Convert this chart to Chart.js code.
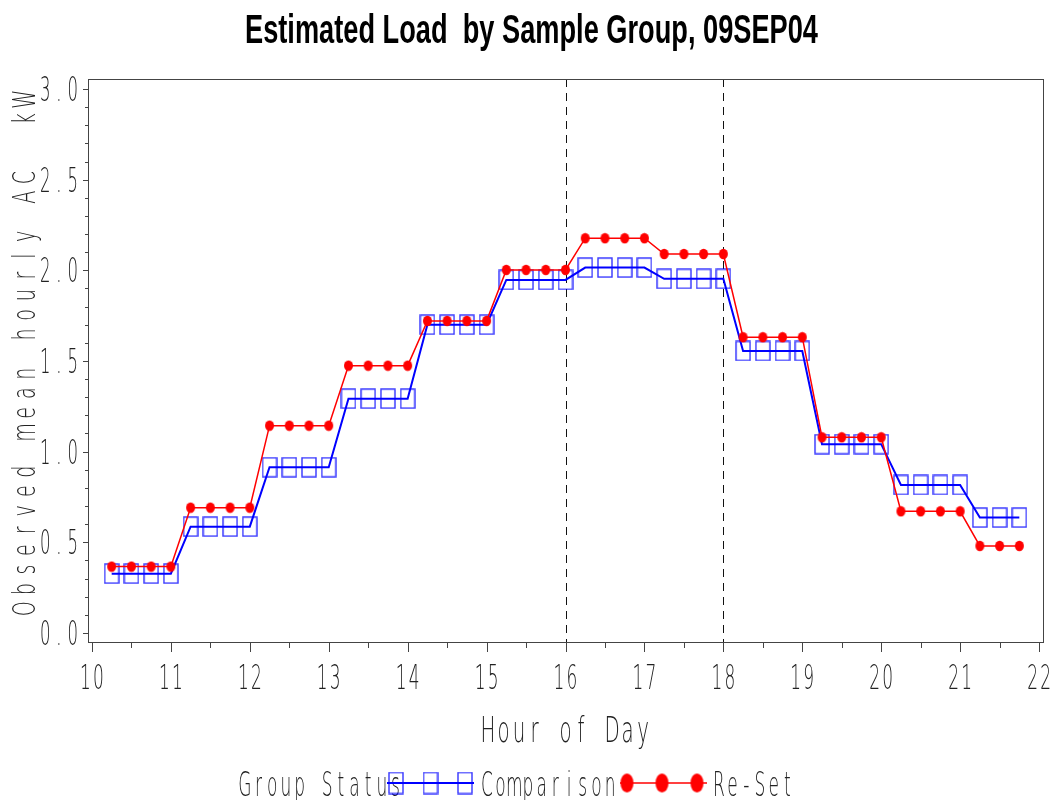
<!DOCTYPE html>
<html>
<head>
<meta charset="utf-8">
<title>Estimated Load by Sample Group</title>
<script src="https://cdn.jsdelivr.net/npm/chart.js@4/dist/chart.umd.min.js"></script>
<style>
  html, body { margin: 0; padding: 0; background: #fff; }
  #wrap { width: 1053px; height: 800px; }
</style>
</head>
<body>
<div id="wrap"><canvas id="loadChart" width="1053" height="800"></canvas></div>
<script>
// quarter-hour readings, 10:15 .. 21:45
var hours = [
  10.25, 10.5, 10.75, 11.0,
  11.25, 11.5, 11.75, 12.0,
  12.25, 12.5, 12.75, 13.0,
  13.25, 13.5, 13.75, 14.0,
  14.25, 14.5, 14.75, 15.0,
  15.25, 15.5, 15.75, 16.0,
  16.25, 16.5, 16.75, 17.0,
  17.25, 17.5, 17.75, 18.0,
  18.25, 18.5, 18.75, 19.0,
  19.25, 19.5, 19.75, 20.0,
  20.25, 20.5, 20.75, 21.0,
  21.25, 21.5, 21.75
];

var comparison = [
  0.327, 0.327, 0.327, 0.327,
  0.586, 0.586, 0.586, 0.586,
  0.914, 0.914, 0.914, 0.914,
  1.292, 1.292, 1.292, 1.292,
  1.700, 1.700, 1.700, 1.700,
  1.947, 1.947, 1.947, 1.947,
  2.015, 2.015, 2.015, 2.015,
  1.953, 1.953, 1.953, 1.953,
  1.555, 1.555, 1.555, 1.555,
  1.041, 1.041, 1.041, 1.041,
  0.816, 0.816, 0.816, 0.816,
  0.636, 0.636, 0.636
];

var reset = [
  0.366, 0.366, 0.366, 0.366,
  0.691, 0.691, 0.691, 0.691,
  1.143, 1.143, 1.143, 1.143,
  1.474, 1.474, 1.474, 1.474,
  1.721, 1.721, 1.721, 1.721,
  2.002, 2.002, 2.002, 2.002,
  2.177, 2.177, 2.177, 2.177,
  2.090, 2.090, 2.090, 2.090,
  1.631, 1.631, 1.631, 1.631,
  1.079, 1.079, 1.079, 1.079,
  0.671, 0.671, 0.671, 0.671,
  0.480, 0.480, 0.480
];

var yTicks = [0, 0.5, 1.0, 1.5, 2.0, 2.5, 3.0];
var yTickLabels = ['0.0', '0.5', '1.0', '1.5', '2.0', '2.5', '3.0'];
var xTicks = [10, 11, 12, 13, 14, 15, 16, 17, 18, 19, 20, 21, 22];
var xTickLabels = ['10', '11', '12', '13', '14', '15', '16', '17', '18', '19', '20', '21', '22'];
var refHours = [16, 18];

var BLUE = '#0000ff';
var RED = '#ff0000';
var INK = '#222';
var THIN = '300';

// marker images (SAS draws them a bit taller than wide)
function boxMarker(w, h) {
  var c = document.createElement('canvas');
  c.width = w + 2; c.height = h + 2;
  var g = c.getContext('2d');
  g.strokeStyle = 'rgba(0,0,255,0.8)';
  g.lineWidth = 1.4;
  g.strokeRect(1, 1, w, h);
  return c;
}
function dotMarker(w, h) {
  var c = document.createElement('canvas');
  c.width = w + 2; c.height = h + 2;
  var g = c.getContext('2d');
  g.fillStyle = RED;
  g.beginPath();
  g.ellipse(c.width / 2, c.height / 2, w / 2, h / 2, 0, 0, Math.PI * 2);
  g.fill();
  return c;
}
var boxImg = boxMarker(14, 19);
var dotImg = dotMarker(9, 10.5);
var boxLegend = boxMarker(14, 21);
var dotLegend = dotMarker(13, 19);

// fixed-pitch, narrow text like the SAS simplex font
function monoText(ctx, str, x, y, pitch, size, sx, align) {
  var w = str.length * pitch;
  var start = x;
  if (align === 'center') start = x - w / 2;
  else if (align === 'right') start = x - w;
  ctx.font = THIN + ' ' + size + 'px "DejaVu Sans"';
  ctx.textAlign = 'center';
  ctx.textBaseline = 'alphabetic';
  for (var i = 0; i < str.length; i++) {
    var ch = str[i];
    if (ch === ' ') continue;
    ctx.save();
    ctx.translate(start + pitch * (i + 0.5), y);
    ctx.scale(sx, 1);
    ctx.fillText(ch, 0, 0);
    ctx.restore();
  }
}

var sasFrame = {
  id: 'sasFrame',
  beforeDatasetsDraw: function (chart) {
    var ctx = chart.ctx, a = chart.chartArea, xs = chart.scales.x;
    ctx.save();
    ctx.strokeStyle = '#111';
    ctx.lineWidth = 1;
    ctx.setLineDash([8, 6]);
    refHours.forEach(function (h) {
      var px = Math.round(xs.getPixelForValue(h)) + 0.5;
      ctx.beginPath();
      ctx.moveTo(px, a.top);
      ctx.lineTo(px, a.bottom);
      ctx.stroke();
    });
    ctx.restore();
  },
  afterDraw: function (chart) {
    var ctx = chart.ctx, a = chart.chartArea;
    var xs = chart.scales.x, ys = chart.scales.y;
    ctx.save();

    // frame
    ctx.strokeStyle = '#444';
    ctx.lineWidth = 1;
    ctx.strokeRect(Math.round(a.left) + 0.5, Math.round(a.top) + 0.5,
      Math.round(a.right - a.left), Math.round(a.bottom - a.top));

    // y ticks: major every 0.5, minor every 0.1
    ctx.beginPath();
    for (var k = 0; k <= 30; k++) {
      var py = Math.round(ys.getPixelForValue(k / 10)) + 0.5;
      var len = (k % 5 === 0) ? 5 : 3;
      ctx.moveTo(a.left, py);
      ctx.lineTo(a.left - len, py);
    }
    // x ticks: major every hour, minor every half hour
    for (var m = 20; m <= 44; m++) {
      var px = Math.round(xs.getPixelForValue(m / 2)) + 0.5;
      var tl = (m % 2 === 0) ? 10 : 6;
      ctx.moveTo(px, a.bottom);
      ctx.lineTo(px, a.bottom + tl);
    }
    ctx.stroke();

    ctx.fillStyle = INK;
    yTicks.forEach(function (v, i) {
      var py = ys.getPixelForValue(v);
      monoText(ctx, yTickLabels[i], 79.5, py + 12, 13.75, 33, 0.5, 'right');
    });
    xTicks.forEach(function (v, i) {
      var px = xs.getPixelForValue(v);
      monoText(ctx, xTickLabels[i], px, 689, 13, 34, 0.5, 'center');
    });

    // axis titles
    monoText(ctx, 'Hour of Day', (a.left + a.right) / 2, 742, 15.5, 36, 0.55, 'center');
    ctx.save();
    ctx.translate(35, 354);
    ctx.rotate(-Math.PI / 2);
    monoText(ctx, 'Observed mean hourly AC  kW', 0, 0, 19.6, 32, 0.6, 'center');
    ctx.restore();

    // title
    var title = 'Estimated Load  by Sample Group, 09SEP04';
    ctx.font = 'bold 40px "Liberation Sans Narrow", "Liberation Sans", Arial, sans-serif';
    ctx.textAlign = 'left';
    ctx.textBaseline = 'alphabetic';
    var tw = ctx.measureText(title).width;
    ctx.save();
    ctx.translate(531.5 - 573 / 2, 43);
    ctx.scale(573 / tw, 1);
    ctx.fillStyle = '#000';
    ctx.fillText(title, 0, 0);
    ctx.restore();

    // legend
    var ly = 783, base = 796;
    ctx.fillStyle = INK;
    monoText(ctx, 'Group Status', 238, base, 13.7, 34, 0.5, 'left');
    ctx.strokeStyle = BLUE; ctx.lineWidth = 2;
    ctx.beginPath(); ctx.moveTo(387, ly); ctx.lineTo(474, ly); ctx.stroke();
    [396, 430.5, 465].forEach(function (cx) {
      ctx.drawImage(boxLegend, cx - boxLegend.width / 2, ly - boxLegend.height / 2);
    });
    ctx.fillStyle = INK;
    monoText(ctx, 'Comparison', 480, base, 13.7, 34, 0.5, 'left');
    ctx.strokeStyle = RED; ctx.lineWidth = 1.5;
    ctx.beginPath(); ctx.moveTo(620, ly); ctx.lineTo(707, ly); ctx.stroke();
    [627, 662, 697].forEach(function (cx) {
      ctx.drawImage(dotLegend, cx - dotLegend.width / 2, ly - dotLegend.height / 2);
    });
    ctx.fillStyle = INK;
    monoText(ctx, 'Re-Set', 712, base, 13.7, 34, 0.5, 'left');

    ctx.restore();
  }
};

function points(ys) {
  return hours.map(function (h, i) { return { x: h, y: ys[i] }; });
}

new Chart(document.getElementById('loadChart'), {
  type: 'line',
  data: {
    datasets: [
      {
        label: 'Re-Set',
        data: points(reset),
        borderColor: RED,
        borderWidth: 1.5,
        pointStyle: dotImg,
        tension: 0
      },
      {
        label: 'Comparison',
        data: points(comparison),
        borderColor: BLUE,
        borderWidth: 2,
        pointStyle: boxImg,
        tension: 0
      }
    ]
  },
  options: {
    responsive: false,
    animation: false,
    events: [],
    layout: { padding: { left: 88, right: 10, top: 79, bottom: 158 } },
    plugins: { legend: { display: false }, tooltip: { enabled: false } },
    scales: {
      x: { type: 'linear', min: 9.95, max: 22.05, display: false },
      y: { type: 'linear', min: -0.05, max: 3.055, display: false }
    }
  },
  plugins: [sasFrame]
});
</script>
</body>
</html>
